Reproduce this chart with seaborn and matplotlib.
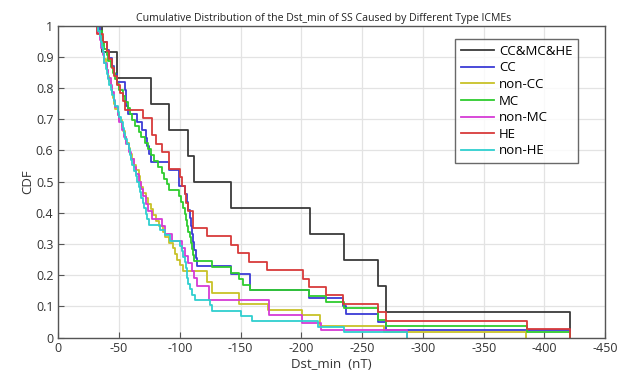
import numpy as np
import pandas as pd
import matplotlib
matplotlib.use("Agg")
import matplotlib.pyplot as plt
import seaborn as sns

# Dst_min values (nT) for each ICME group
cc_mc_he = [-421, -270, -263, -235, -207, -142, -112, -107, -91, -76, -48, -36]

cc = [-421, -270, -263, -237, -234, -206, -158, -158, -142, -114,
      -113, -112, -111, -110, -109, -108, -107, -106, -104.5, -99,
      -99, -91, -76, -74.5, -73, -72, -68.8, -64.7, -57, -56,
      -55.5, -55, -48, -46, -44, -42, -40, -36, -34]

non_cc = [-385, -268, -215.4, -215.4, -200.8, -172.4, -148.5, -148.5, -126.5, -126.5,
          -122.4, -122.4, -103, -100, -98, -96, -94, -91, -88, -86,
          -83, -80, -78, -76, -74, -72, -70, -68, -67, -66,
          -64, -62, -61, -59, -58, -56, -55, -53, -52, -50,
          -49, -47, -46, -45, -44, -43, -42, -41, -40, -39,
          -38, -37, -36, -35, -34, -33]

mc = [-421, -386, -270, -263, -263, -235, -220, -206, -158, -152,
      -148.5, -142, -126.5, -111.4, -111, -110, -109, -108, -107, -106,
      -105, -104, -103, -101, -99, -91, -89.4, -87, -85, -82,
      -79, -76, -74, -71, -68, -66, -63, -61, -59, -57,
      -55, -53, -50, -48, -47, -45, -43, -41, -40, -38,
      -37, -36, -33]

non_mc = [-287, -216, -200.8, -173, -173, -123.8, -123.8, -114, -112, -110,
          -107, -104, -101.8, -93.6, -88, -85.3, -77, -74, -72, -70,
          -68, -66, -64, -62, -60, -58, -56, -54, -52, -50,
          -49, -47, -46, -44, -43, -41, -40, -38, -37, -35,
          -34, -32]

he = [-421, -386, -270, -263, -234, -220, -206, -201, -172, -157,
      -148, -142, -122, -111, -111, -107, -105, -104, -102, -100,
      -91, -91, -85, -80, -77, -77, -70, -55, -53, -51,
      -48, -46, -44, -42, -40, -37, -32]

non_he = [-287, -235, -214, -159.6, -150, -126.5, -125.2, -112.8, -110, -108,
          -106.5, -106, -105.5, -105, -104.5, -103, -101.5, -100.4, -92, -88,
          -83.9, -74.3, -73, -72, -70.5, -69.5, -68, -67, -66, -65,
          -64, -62.5, -61, -60, -59, -58, -56.5, -55, -54, -53,
          -51.5, -50, -49, -47, -46, -44.5, -43, -42, -41, -40,
          -39, -38, -37.5, -37, -36, -35, -34, -33]

labels = ["CC&MC&HE", "CC", "non-CC", "MC", "non-MC", "HE", "non-HE"]
series = [cc_mc_he, cc, non_cc, mc, non_mc, he, non_he]
colors = ["#3a3a3a", "#3b3bd6", "#c8c228", "#2ecc2e", "#d63ad6", "#d83a3a", "#2fcfcf"]

plt.rcParams["font.family"] = ["Open Sans", "DejaVu Sans"]

fig = plt.figure(figsize=(6.25, 3.81), dpi=100)
ax = fig.add_axes([0.0933, 0.114, 0.875, 0.819])

for vals, lab, col in zip(series, labels, colors):
    sns.ecdfplot(x=np.array(vals, dtype=float), ax=ax, color=col, label=lab, linewidth=1.3)

ax.set_xlim(0, -450)
ax.set_ylim(0, 1)
ax.set_xticks(np.arange(0, -451, -50))
ax.set_xticklabels([f"{int(v)}" for v in np.arange(0, -451, -50)])
ax.set_yticks(np.arange(0, 1.01, 0.1))
ax.set_yticklabels(["0"] + [f"{v:.1f}" for v in np.arange(0.1, 0.95, 0.1)] + ["1"])
ax.grid(True, color="#e3e3e3", linewidth=0.9)
ax.set_axisbelow(True)
ax.tick_params(direction="in", length=4, color="#555555", labelsize=9, labelcolor="#333333")
for sp in ax.spines.values():
    sp.set_color("#555555")
    sp.set_linewidth(1.0)

ax.set_xlabel("Dst_min  (nT)", fontsize=9.5, color="#333333", labelpad=2)
ax.set_ylabel("CDF", fontsize=9.5, color="#333333", labelpad=1)
ax.set_title("Cumulative Distribution of the Dst_min of SS Caused by Different Type ICMEs",
             fontsize=7.6, color="#222222", pad=3, x=0.485)

leg = ax.legend(loc="upper right", bbox_to_anchor=(0.963, 0.978), fontsize=9.5,
                frameon=True, fancybox=False, edgecolor="#444444",
                handlelength=2.5, handletextpad=0.4, borderpad=0.45, labelspacing=0.27)
leg.get_frame().set_linewidth(1.0)

fig.savefig("out.png", dpi=100)
